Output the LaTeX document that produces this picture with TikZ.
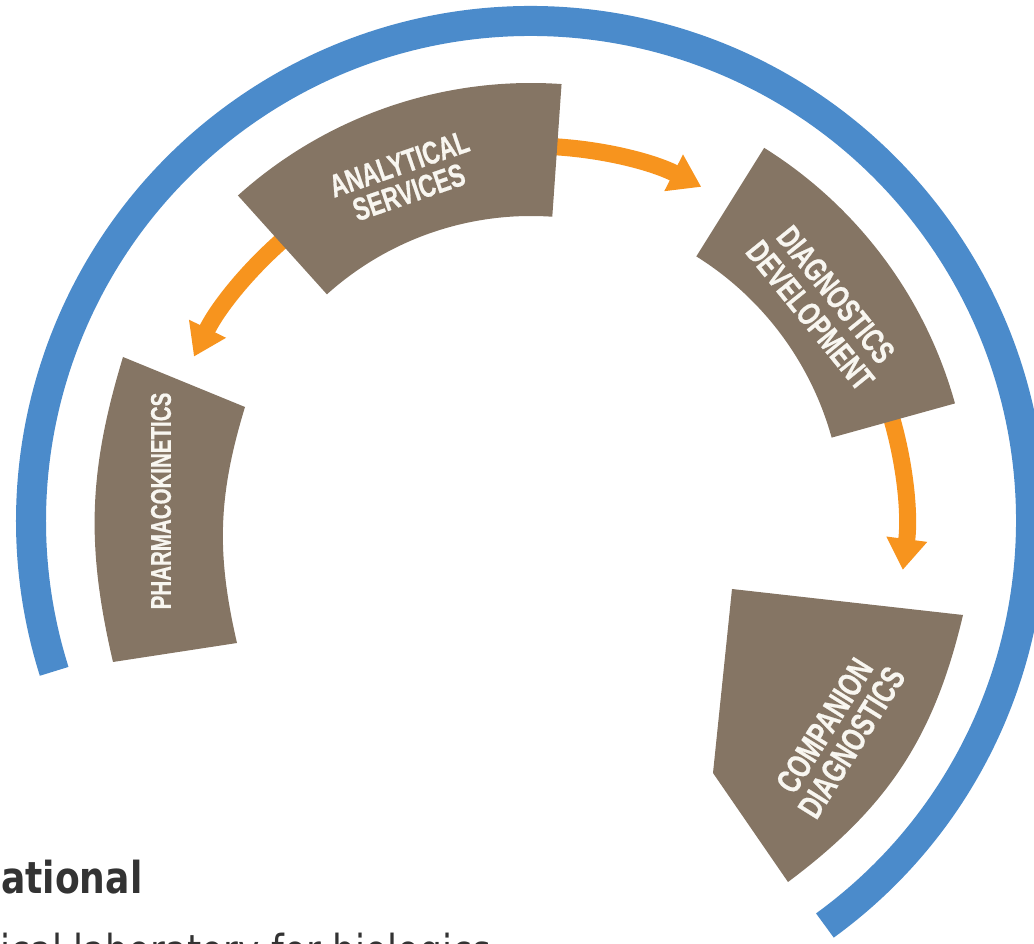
\documentclass[tikz,border=0pt]{standalone}
\usepackage{fontspec}
\usetikzlibrary{arrows.meta,calc}
\newfontfamily\boxfont{Liberation Sans}[FakeStretch=0.72,FakeBold=0.6]
\newfontfamily\captfont{DejaVu Sans}[FakeStretch=0.82]
\definecolor{ringblue}{RGB}{75,139,203}
\definecolor{boxbrown}{RGB}{133,117,100}
\definecolor{arroworange}{RGB}{247,148,30}
\definecolor{labelwhite}{RGB}{248,246,240}
\definecolor{captgray}{RGB}{51,51,51}
\tikzset{
  sector/.style={fill=boxbrown, draw=none},
  flow/.style={draw=arroworange, line width=17pt, -{Triangle[width=39pt,length=31pt]}},
  ring/.style={draw=ringblue, line width=30pt},
  boxlabel/.style={text=labelwhite, align=center, inner sep=0pt},
  capt/.style={anchor=base west, inner sep=0pt, text=captgray},
}
\begin{document}
\begin{tikzpicture}[x=1pt,y=1pt]
\useasboundingbox (0,0) rectangle (1034,943);
\clip (0,0) rectangle (1034,943);
\coordinate (C) at (531,422);

% outer blue ring
\coordinate (ringStart) at ($(C)+(-54:500)$);
\draw[ring] (ringStart) arc[start angle=-54,end angle=197.5,radius=500];

% orange flow arrows (drawn under the boxes)
\coordinate (f1s) at ($(C)+(128:375)$);
\draw[flow] (f1s) arc[start angle=128,end angle=154,radius=375];
\coordinate (f2s) at ($(C)+(89:375)$);
\draw[flow] (f2s) arc[start angle=89,end angle=63,radius=375];
\coordinate (f3s) at ($(C)+(19:375)$);
\draw[flow] (f3s) arc[start angle=19,end angle=-7.5,radius=375];

% Analytical services box
\fill[sector] ($(C)+(86:438)$) arc[start angle=86,end angle=132,radius=438]
  -- ($(C)+(132:305)$) arc[start angle=132,end angle=86,radius=305] -- cycle;
% Diagnostics development box
\fill[sector] ($(C)+(15.5:440)$) arc[start angle=15.5,end angle=58,radius=440]
  -- ($(C)+(58:312)$) arc[start angle=58,end angle=15.5,radius=312] -- cycle;
% Pharmacokinetics box
\coordinate (pkOT) at (123,586);
\coordinate (pkIT) at (245,536);
\coordinate (pkIB) at (237,300);
\coordinate (pkOB) at (113,281);
\fill[sector] (pkOT) -- (pkIT) to[bend right=15] (pkIB) -- (pkOB) to[bend left=15] (pkOT) -- cycle;
% Companion diagnostics box
\coordinate (cdIT) at (732,354);
\coordinate (cdOT) at (963,328);
\coordinate (cdOB) at (788,61);
\coordinate (cdIB) at (713,170);
\fill[sector] (cdIT) -- (cdOT) to[bend left=20] (cdOB) -- (cdIB) -- cycle;

% labels
\node[boxlabel, rotate=19, font=\boxfont\bfseries\fontsize{32}{30}\selectfont] (as) at (404,765) {ANALYTICAL\\SERVICES};
\node[boxlabel, rotate=-51, font=\boxfont\bfseries\fontsize{33}{33}\selectfont] (dd) at (823,638) {DIAGNOSTICS\\DEVELOPMENT};
\node[boxlabel, rotate=58, font=\boxfont\bfseries\fontsize{34}{32}\selectfont] (cd) at (838,209) {COMPANION\\DIAGNOSTICS};
\node[boxlabel, rotate=90, font=\boxfont\bfseries\fontsize{28.5}{30}\selectfont] (pk) at (161,442) {PHARMACOKINETICS};

% caption (cut off by the picture edge)
\node[capt, font=\captfont\bfseries\fontsize{44}{50}\selectfont] (capt1) at (1,49) {ational};
\node[capt, font=\captfont\fontsize{44}{50}\selectfont] (capt2) at (0,-23) {ical laboratory for biologics};
\end{tikzpicture}
\end{document}
